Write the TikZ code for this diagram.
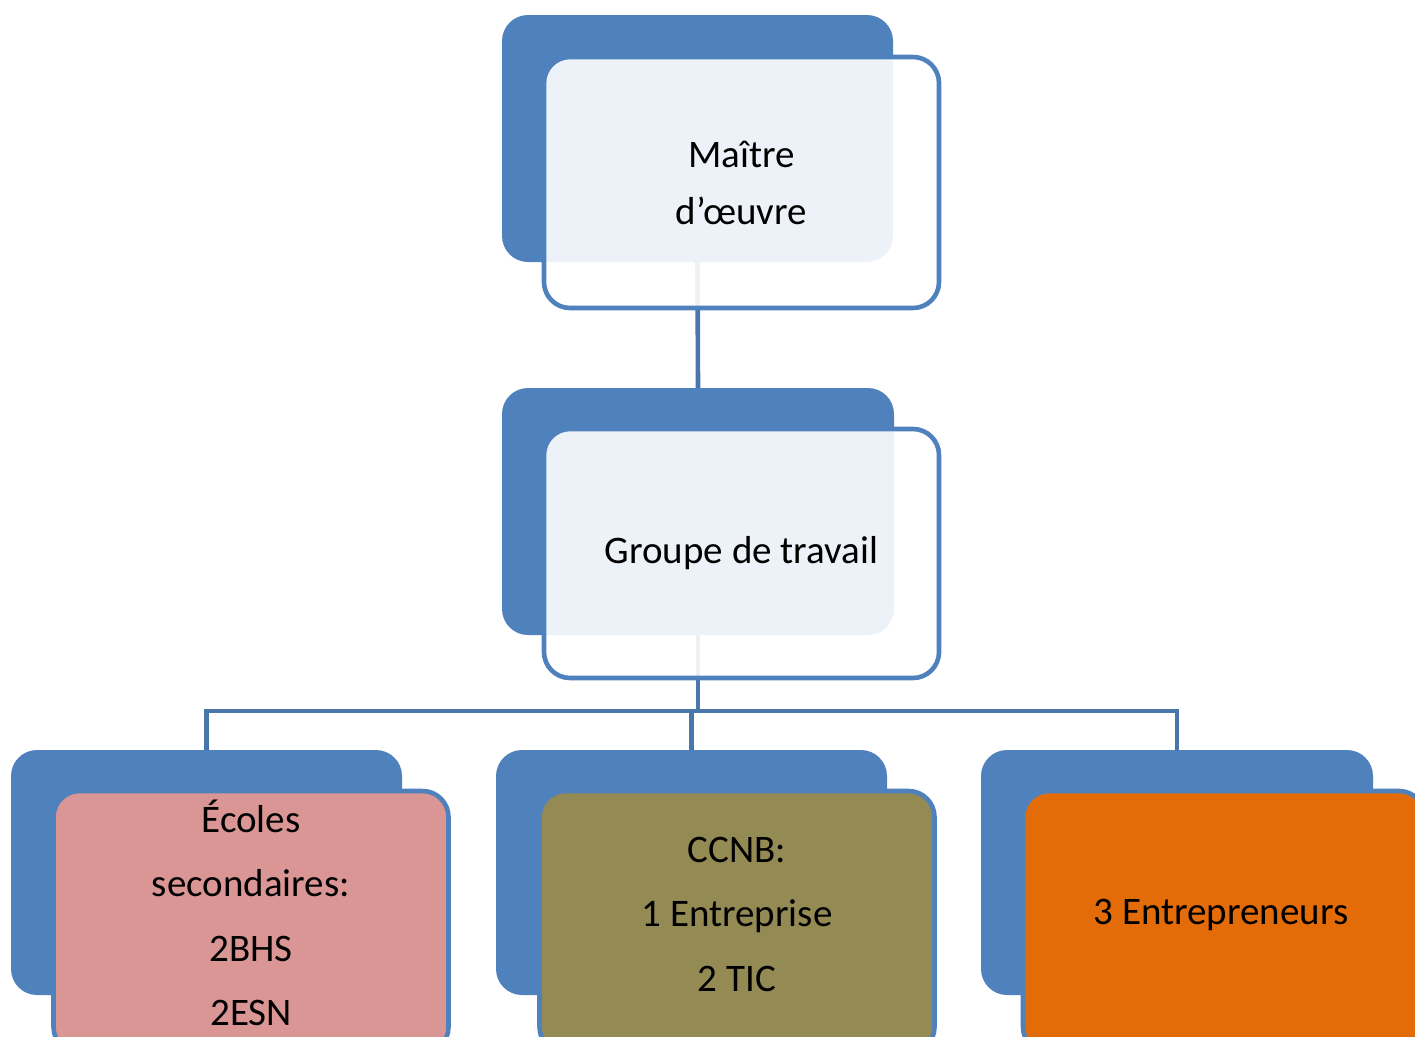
\documentclass[tikz,border=0pt]{standalone}
\usepackage{fontspec}
\setmainfont{Carlito}
\definecolor{backblue}{HTML}{4F81BD}
\definecolor{linkblue}{HTML}{4A75AD}
\definecolor{pinkfill}{HTML}{D99694}
\definecolor{olivefill}{HTML}{948A54}
\definecolor{orangefill}{HTML}{E36C09}
\tikzset{
  backbox/.style={rectangle, rounded corners=26pt, fill=backblue, draw=none, inner sep=0pt},
  frontbox/.style={rectangle, rounded corners=26pt, draw=backblue, line width=4.6pt, inner sep=0pt, align=center, text=black,
    font=\fontsize{39}{58}\selectfont},
  txt/.style={inner sep=0pt, align=center, text=black, font=\fontsize{39}{64.5}\selectfont},
  link/.style={draw=linkblue, line width=4.6pt},
}
\begin{document}
\begin{tikzpicture}[x=1pt,y=-1pt]
\useasboundingbox (0,0) rectangle (1415,1036);
\clip (0,0) rectangle (1415,1036);
% back boxes
\node[backbox, minimum width=391pt, minimum height=247pt] (mback) at (697.5,138.5) {};
\node[backbox, minimum width=392pt, minimum height=247pt] (gback) at (698,511.5) {};
\node[backbox, minimum width=391pt, minimum height=245pt] (aback) at (206.5,872.5) {};
\node[backbox, minimum width=391pt, minimum height=245pt] (bback) at (691.5,872.5) {};
\node[backbox, minimum width=392pt, minimum height=245pt] (cback) at (1177,872.5) {};
% connectors
\coordinate (bus) at (698,711);
\draw[link] (mback.south) -- (gback.north);
\draw[link] (gback.south) -- (bus);
\draw[link] (aback.north) -- (aback.north |- bus) -- (cback.north |- bus) -- (cback.north);
\draw[link] (bback.north) -- (bback.north |- bus);
% front boxes
\node[frontbox, fill=white, fill opacity=0.9, text opacity=1, minimum width=395pt, minimum height=251pt] (m) at (741.5,182.5) {Maître\\[-1pt]d’œuvre};
\node[frontbox, fill=white, fill opacity=0.9, text opacity=1, minimum width=395pt, minimum height=249pt] (g) at (741.5,553.5) {Groupe de travail};
\node[frontbox, fill=pinkfill, minimum width=395pt, minimum height=262pt] (a) at (251,922) {};
\node[frontbox, fill=olivefill, minimum width=395pt, minimum height=262pt] (b) at (737,922) {};
\node[frontbox, fill=orangefill, minimum width=402pt, minimum height=262pt] (c) at (1224,922) {};
\node[txt] (atext) at (251,913) {Écoles\\secondaires:\\2BHS\\2ESN};
\node[txt] (btext) at (737,914) {CCNB:\\1 Entreprise\\2 TIC};
\node[txt] (ctext) at (1221,915) {3 Entrepreneurs};
\end{tikzpicture}
\end{document}
